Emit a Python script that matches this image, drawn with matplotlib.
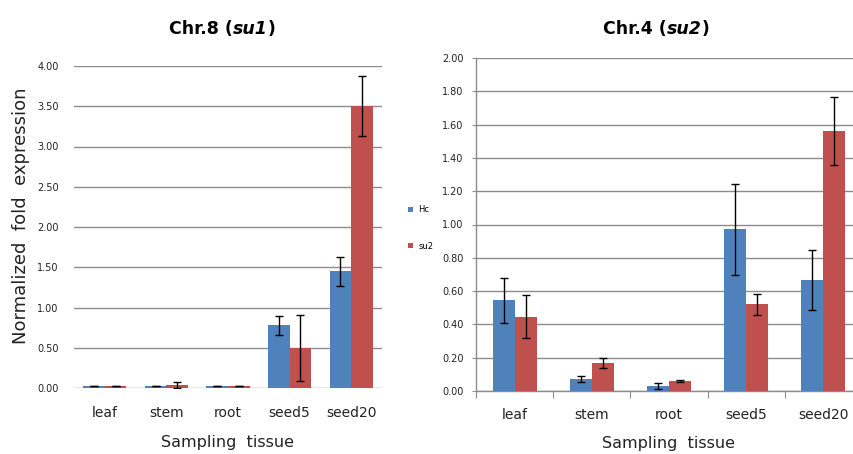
import matplotlib
matplotlib.use("Agg")
import matplotlib.pyplot as plt
import numpy as np

categories = ["leaf", "stem", "root", "seed5", "seed20"]
series_names = ["Hc", "su2"]

su1_hc = [0.02, 0.02, 0.02, 0.78, 1.45]
su1_hc_err = [0.0, 0.0, 0.0, 0.12, 0.18]
su1_su2 = [0.02, 0.035, 0.02, 0.50, 3.50]
su1_su2_err = [0.0, 0.04, 0.0, 0.41, 0.375]

su2_hc = [0.545, 0.074, 0.030, 0.97, 0.665]
su2_hc_err = [0.135, 0.018, 0.016, 0.274, 0.18]
su2_su2 = [0.447, 0.166, 0.060, 0.52, 1.56]
su2_su2_err = [0.13, 0.03, 0.008, 0.065, 0.205]

left_ticks = [0.0, 0.5, 1.0, 1.5, 2.0, 2.5, 3.0, 3.5, 4.0]
right_ticks = [0.0, 0.2, 0.4, 0.6, 0.8, 1.0, 1.2, 1.4, 1.6, 1.8, 2.0]

BLUE = "#4F81BD"
RED = "#C0504D"
GRID = "#8c8c8c"
W, H = 854, 454

fig = plt.figure(figsize=(W / 100, H / 100), dpi=100)
fig.patch.set_facecolor("white")

def ax_rect(x0, x1, ytop, ybot):
    return [x0 / W, (H - ybot) / H, (x1 - x0) / W, (ybot - ytop) / H]

ax1 = fig.add_axes(ax_rect(74, 382, 66, 388))
ax2 = fig.add_axes(ax_rect(476, 862, 58, 391))

x = np.arange(len(categories))
ekw = dict(ecolor="black", elinewidth=1.0, capsize=3, capthick=1.0)

def draw(ax, hc, hce, s2, s2e, bw, ticks, ymax):
    ax.bar(x - bw / 2, hc, bw, color=BLUE, yerr=hce, error_kw=ekw, zorder=3, label=series_names[0])
    ax.bar(x + bw / 2, s2, bw, color=RED, yerr=s2e, error_kw=ekw, zorder=3, label=series_names[1])
    ax.set_xlim(-0.5, len(categories) - 0.5)
    ax.set_ylim(0, ymax)
    ax.set_yticks(ticks)
    ax.set_yticklabels([f"{t:.2f}" for t in ticks], fontsize=7, color="#222222")
    ax.yaxis.grid(True, color=GRID, linewidth=1.0, zorder=0)
    ax.set_axisbelow(True)

draw(ax1, su1_hc, su1_hc_err, su1_su2, su1_su2_err, 0.35, left_ticks, 4.0)
draw(ax2, su2_hc, su2_hc_err, su2_su2, su2_su2_err, 0.285, right_ticks, 2.0)

# Left panel style
for s in ax1.spines.values():
    s.set_visible(False)
ax1.tick_params(axis="y", length=0, pad=11)
ax1.set_xticks(x)
ax1.set_xticklabels(categories, fontsize=10, color="#222222")
ax1.tick_params(axis="x", length=0, pad=13)
ax1.set_ylabel("Normalized  fold  expression", fontsize=13, color="#222222")
ax1.yaxis.set_label_coords(-0.142, (388 - 216) / 322)
ax1.set_xlabel("Sampling  tissue", fontsize=11.5, color="#222222", labelpad=11)

# Right panel style
for k in ["top", "right"]:
    ax2.spines[k].set_visible(False)
for k in ["left", "bottom"]:
    ax2.spines[k].set_color(GRID)
    ax2.spines[k].set_linewidth(1.0)
ax2.tick_params(axis="y", length=3, color=GRID, pad=6)
ax2.set_xticks(np.arange(-0.5, len(categories), 1.0))
ax2.set_xticklabels([])
ax2.set_xticks(x, minor=True)
ax2.set_xticklabels(categories, minor=True, fontsize=10, color="#222222")
ax2.tick_params(axis="x", which="major", length=5, color=GRID, direction="out")
ax2.tick_params(axis="x", which="minor", length=0, pad=12)
ax2.set_xlabel("Sampling  tissue", fontsize=11.5, color="#222222", labelpad=10)

# Titles built from pieces: bold + bold italic + bold
def title(x_left, y, gene):
    t1 = fig.text(x_left / W, 1 - y / H, "Chr." + gene[0] + " (", ha="left", va="baseline",
                  fontsize=12.5, fontweight="bold")
    t2 = fig.text(0, 0, gene[1], ha="left", va="baseline", fontsize=12.5,
                  fontweight="bold", fontstyle="italic")
    fig.canvas.draw()
    r = fig.canvas.get_renderer()
    bb = t1.get_window_extent(r)
    t2.set_position((bb.x1 / W, 1 - y / H))
    fig.canvas.draw()
    bb2 = t2.get_window_extent(r)
    fig.text(bb2.x1 / W, 1 - y / H, ")", ha="left", va="baseline", fontsize=12.5, fontweight="bold")

title(169, 34, ("8", "su1"))
title(603, 34, ("4", "su2"))

# Legend
handles, labels = ax2.get_legend_handles_labels()
h = [handles[0].patches[0], handles[1].patches[0]]
fig.legend(h, labels, loc="center left", bbox_to_anchor=(404 / W, 1 - 228 / H),
           frameon=False, fontsize=6, handlelength=0.6, handleheight=0.6,
           labelspacing=3.3, handletextpad=0.6, borderpad=0)

fig.savefig("out.png", dpi=100)
